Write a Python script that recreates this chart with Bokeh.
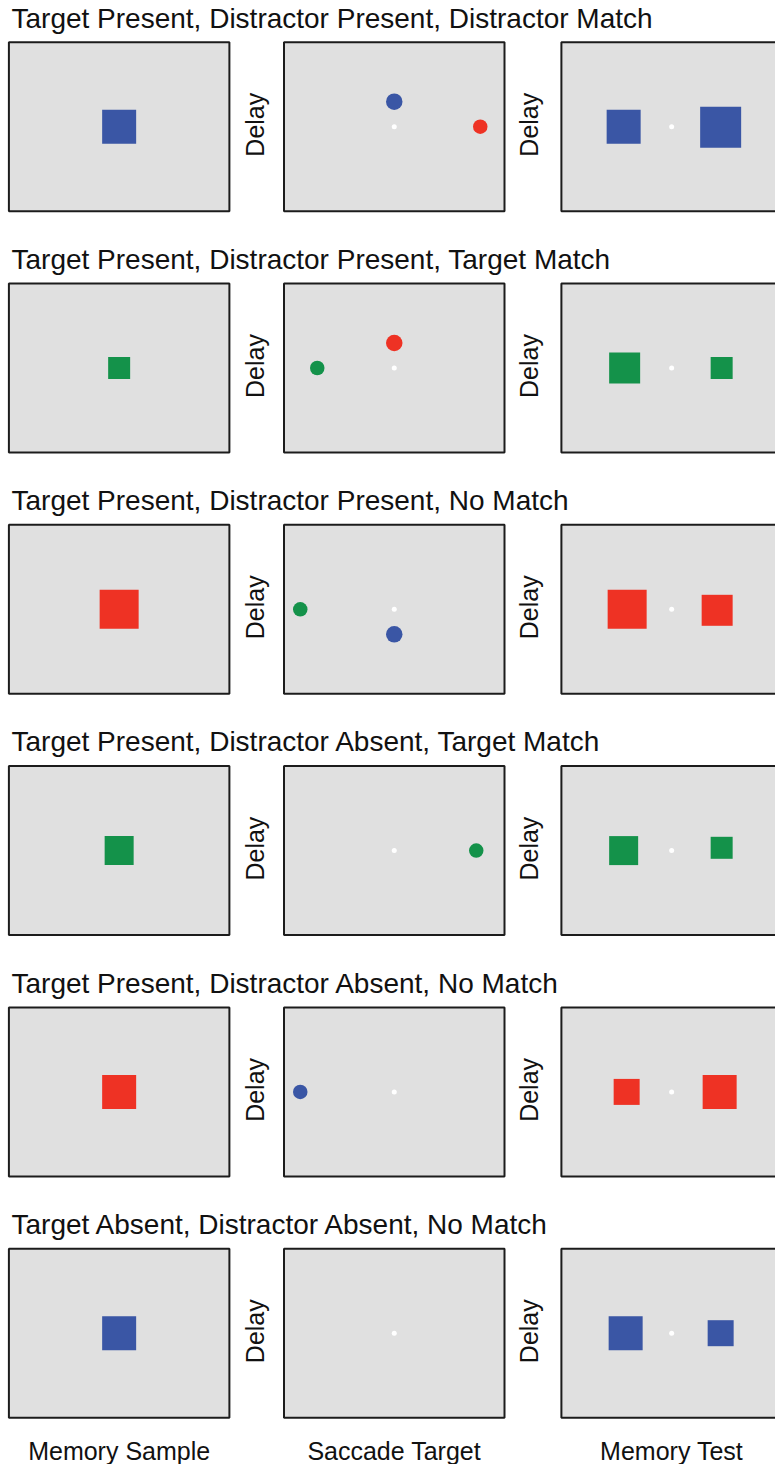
import math
from bokeh.plotting import figure
from bokeh.models import Range1d
from bokeh.core.properties import value
from bokeh.embed import file_html
from bokeh.resources import INLINE

# ---------------- data ----------------
conditions = [
    "Target Present, Distractor Present, Distractor Match",
    "Target Present, Distractor Present, Target Match",
    "Target Present, Distractor Present, No Match",
    "Target Present, Distractor Absent, Target Match",
    "Target Present, Distractor Absent, No Match",
    "Target Absent, Distractor Absent, No Match",
]
epochs = ["Memory Sample", "Saccade Target", "Memory Test"]
delay_label = "Delay"

BLUE, RED, GREEN = "#3a56a5", "#ee3224", "#14924a"

# memory sample (one square per condition)
sample_color = [BLUE, GREEN, RED, GREEN, RED, BLUE]
sample_size = [34, 22, 39, 29, 34, 34]

# saccade-target epoch dots: condition index, offset from fixation, diameter, colour
dot_row = [0, 0, 1, 1, 2, 2, 3, 4]
dot_dx = [0, 86, 0, -77, -94, 0, 82, -94]
dot_dy = [-25, 0, -25, 0, 0, 25, 0, 0]
dot_size = [16.5, 14.5, 16.5, 14.5, 14.5, 16.5, 14.5, 14.5]
dot_color = [BLUE, RED, RED, GREEN, GREEN, BLUE, GREEN, BLUE]

# memory test squares (left / right of fixation)
test_color = [BLUE, GREEN, RED, GREEN, RED, BLUE]
test_left_size = [34, 31, 39, 29, 26, 34]
test_right_size = [41, 22, 31, 22, 34, 26]
test_left_dx = [-48, -47, -44.5, -48, -45, -46]
test_right_dx = [49, 50, 45.5, 50, 48, 49]
test_right_dy = [0.5, 0, 1, -2.8, 0, 0]

# ---------------- layout ----------------
W, H = 775, 1464
PANEL_W, PANEL_H = 220.5, 169
PANEL_LEFT = [8.4, 283.5, 560.9]
ROW_TOP0, ROW_PITCH = 41.7, 241.3
DELAY_X = [254.5, 528]

n = len(conditions)
row_top = [ROW_TOP0 + i * ROW_PITCH for i in range(n)]
row_cy = [t + PANEL_H / 2 for t in row_top]
col_cx = [l + PANEL_W / 2 for l in PANEL_LEFT]

p = figure(width=W, height=H, output_backend="svg", toolbar_location=None,
           x_range=Range1d(0, W), y_range=Range1d(H, 0),
           min_border=0)
p.xaxis.visible = False
p.yaxis.visible = False
p.grid.visible = False
p.outline_line_color = None
p.background_fill_color = "white"
p.border_fill_color = "white"

# panel boxes
bx, by = [], []
for i in range(n):
    for j in range(3):
        bx.append(col_cx[j]); by.append(row_cy[i])
p.rect(x=bx, y=by, width=PANEL_W, height=PANEL_H, fill_color="#e0e0e0",
       line_color="#1c1c1c", line_width=2)

# memory sample squares
p.rect(x=[col_cx[0]] * n, y=row_cy, width=sample_size, height=sample_size,
       fill_color=sample_color, line_color=None)

# saccade target dots
p.circle(x=[col_cx[1] + dx for dx in dot_dx],
         y=[row_cy[r] + dy for r, dy in zip(dot_row, dot_dy)],
         radius=[s / 2 for s in dot_size], fill_color=dot_color, line_color=None)

# memory test squares
p.rect(x=[col_cx[2] + d for d in test_left_dx], y=row_cy,
       width=test_left_size, height=test_left_size,
       fill_color=test_color, line_color=None)
p.rect(x=[col_cx[2] + d for d in test_right_dx],
       y=[c + d for c, d in zip(row_cy, test_right_dy)],
       width=test_right_size, height=test_right_size,
       fill_color=test_color, line_color=None)

# fixation points
fx = [col_cx[1]] * n + [col_cx[2]] * n
fy = row_cy + row_cy
p.circle(x=fx, y=fy, radius=2.5, fill_color="white", line_color=None)

FONT = value("Liberation Sans")

# condition titles
p.text(x=[11] * n, y=[t - 24.2 for t in row_top], text=conditions,
       text_font=FONT, text_font_size=value("28px"), text_color="#111111",
       text_align="left", text_baseline="middle")

# delay labels
dx_, dy_ = [], []
for i in range(n):
    for x in DELAY_X:
        dx_.append(x); dy_.append(row_cy[i] - 2)
p.text(x=dx_, y=dy_, text=[delay_label] * len(dx_), angle=math.pi / 2,
       text_font=FONT, text_font_size=value("25px"), text_color="#111111",
       text_align="center", text_baseline="middle")

# epoch labels
p.text(x=col_cx, y=[1450] * 3, text=epochs, text_font=FONT,
       text_font_size=value("25px"), text_color="#111111",
       text_align="center", text_baseline="middle")

open("out.html", "w").write(file_html(p, INLINE))
